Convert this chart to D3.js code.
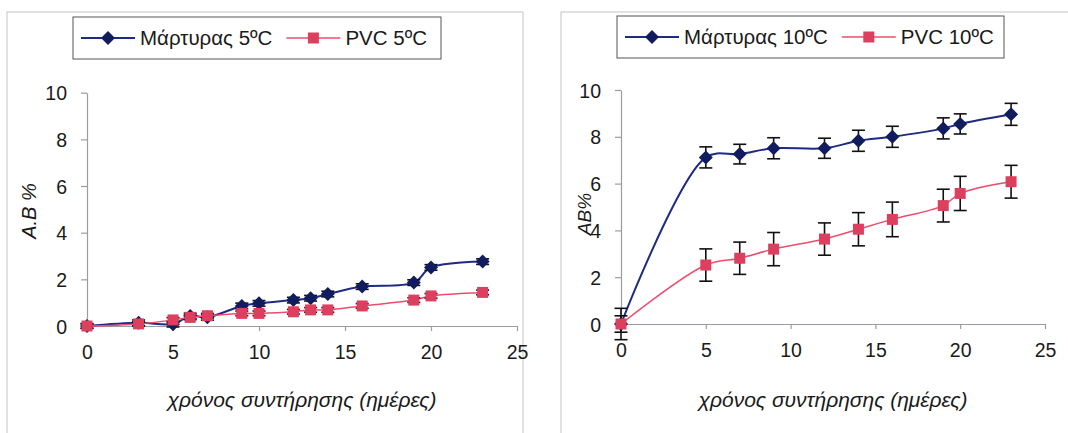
<!DOCTYPE html>
<html>
<head>
<meta charset="utf-8">
<script src="https://cdn.jsdelivr.net/npm/d3@7"></script>
<style>
  body { margin: 0; background: #fff; }
  text { font-family: "Liberation Sans", Arial, sans-serif; fill: #1a1a1a; }
</style>
</head>
<body>
<div id="chart"></div>
<script>
// Data (days of storage vs A.B %)
const days5 = [0, 3, 5, 6, 7, 9, 10, 12, 13, 14, 16, 19, 20, 23];
const control5 = [0, 0.14, 0.08, 0.43, 0.37, 0.86, 0.97, 1.11, 1.19, 1.37, 1.69, 1.86, 2.51, 2.76];
const control5Err = [0.1, 0.12, 0.12, 0.12, 0.12, 0.12, 0.12, 0.12, 0.12, 0.12, 0.12, 0.12, 0.12, 0.12];
const pvc5 = [0, 0.09, 0.26, 0.37, 0.44, 0.54, 0.54, 0.61, 0.69, 0.69, 0.86, 1.11, 1.29, 1.44];
const pvc5Err = [0.1, 0.1, 0.1, 0.1, 0.1, 0.1, 0.1, 0.1, 0.1, 0.1, 0.1, 0.1, 0.1, 0.1];

const days10 = [0, 5, 7, 9, 12, 14, 16, 19, 20, 23];
const control10 = [0, 7.12, 7.26, 7.51, 7.51, 7.83, 8.0, 8.36, 8.55, 8.96];
const control10Err = [0.67, 0.45, 0.42, 0.45, 0.43, 0.45, 0.45, 0.45, 0.43, 0.47];
const pvc10 = [0, 2.52, 2.81, 3.2, 3.63, 4.05, 4.47, 5.06, 5.58, 6.08];
const pvc10Err = [0.35, 0.69, 0.69, 0.71, 0.69, 0.71, 0.74, 0.7, 0.73, 0.7];

const xTicks = [0, 5, 10, 15, 20, 25];
const yTicks = [0, 2, 4, 6, 8, 10];
const xTitle = "χρόνος συντήρησης (ημέρες)";

const blueLine = "#1f2a82";
const blueMark = "#101c5e";
const redLine = "#ec4d6c";
const redMark = "#dd3f5e";

const svg = d3.select("#chart").append("svg")
  .attr("width", 1068)
  .attr("height", 433);

const panels = [
  {
    frame: [7, 12, 516, 440],
    xr: [87, 517], yr: [326, 92.7],
    legend: { x: 73, y: 17, w: 368, h: 42 },
    yTitle: "A.B %", yTitleX: 36, yTitleY: 211, yTitleSize: 20,
    days: days5,
    series: [
      { name: "Μάρτυρας 5ºC", values: control5, err: control5Err, line: blueLine, mark: blueMark, shape: "diamond", width: 2 },
      { name: "PVC 5ºC", values: pvc5, err: pvc5Err, line: redLine, mark: redMark, shape: "square", width: 1.5 }
    ]
  },
  {
    frame: [561, 12, 520, 440],
    xr: [621, 1045], yr: [324, 90],
    legend: { x: 617, y: 16, w: 387, h: 42 },
    yTitle: "AB%", yTitleX: 591, yTitleY: 214, yTitleSize: 19,
    days: days10,
    series: [
      { name: "Μάρτυρας 10ºC", values: control10, err: control10Err, line: blueLine, mark: blueMark, shape: "diamond", width: 2 },
      { name: "PVC 10ºC", values: pvc10, err: pvc10Err, line: redLine, mark: redMark, shape: "square", width: 1.5 }
    ]
  }
];

const diamond = "M0,-7L7,0L0,7L-7,0Z";
const square = "M-5.5,-5.5H5.5V5.5H-5.5Z";

function marker(g, shape, color) {
  g.append("path")
    .attr("d", shape === "diamond" ? diamond : square)
    .attr("fill", color);
}

panels.forEach((p) => {
  const g = svg.append("g");

  // Panel frame
  g.append("rect")
    .attr("x", p.frame[0]).attr("y", p.frame[1])
    .attr("width", p.frame[2]).attr("height", p.frame[3])
    .attr("fill", "none")
    .attr("stroke", "#c4c4c4");

  const x = d3.scaleLinear().domain([0, 25]).range(p.xr);
  const y = d3.scaleLinear().domain([0, 10]).range(p.yr);

  // Axes
  const xAxis = g.append("g")
    .attr("transform", `translate(0,${p.yr[0]})`)
    .call(d3.axisBottom(x).tickValues(xTicks).tickSize(5).tickPadding(14).tickSizeOuter(0));
  const yAxis = g.append("g")
    .attr("transform", `translate(${p.xr[0]},0)`)
    .call(d3.axisLeft(y).tickValues(yTicks).tickSize(6).tickPadding(14).tickSizeOuter(0));
  [xAxis, yAxis].forEach((a) => {
    a.selectAll("path, line").attr("stroke", "#9b9ba6").attr("stroke-width", 1.2);
    a.selectAll("text").attr("font-size", 19.5).attr("font-family", "Liberation Sans, Arial, sans-serif").attr("fill", "#1a1a1a");
  });
  yAxis.selectAll("text").attr("dy", "0.36em");

  // Axis titles
  g.append("text")
    .attr("x", (p.xr[0] + p.xr[1]) / 2)
    .attr("y", 407)
    .attr("text-anchor", "middle")
    .attr("font-family", "DejaVu Sans, Verdana, sans-serif")
    .attr("font-style", "italic")
    .attr("font-size", 21)
    .text(xTitle);
  g.append("text")
    .attr("transform", `translate(${p.yTitleX},${p.yTitleY}) rotate(-90)`)
    .attr("text-anchor", "middle")
    .attr("font-style", "italic")
    .attr("font-size", p.yTitleSize)
    .text(p.yTitle);

  const line = d3.line()
    .x((d) => x(d[0]))
    .y((d) => y(d[1]))
    .curve(d3.curveCatmullRom.alpha(0.5));

  p.series.forEach((s) => {
    const pts = p.days.map((d, i) => [d, s.values[i], s.err[i]]);

    g.append("path")
      .datum(pts)
      .attr("fill", "none")
      .attr("stroke", s.line)
      .attr("stroke-width", s.width)
      .attr("d", line);

    // Error bars
    const eb = g.append("g").attr("stroke", "#111").attr("stroke-width", 1.6);
    pts.forEach((d) => {
      const cx = x(d[0]);
      eb.append("line").attr("x1", cx).attr("x2", cx).attr("y1", y(d[1] - d[2])).attr("y2", y(d[1] + d[2]));
      [d[1] - d[2], d[1] + d[2]].forEach((v) => {
        eb.append("line").attr("x1", cx - 6.5).attr("x2", cx + 6.5).attr("y1", y(v)).attr("y2", y(v));
      });
    });

    // Markers
    g.append("g").selectAll("path")
      .data(pts)
      .join("path")
      .attr("transform", (d) => `translate(${x(d[0])},${y(d[1])})`)
      .attr("d", s.shape === "diamond" ? diamond : square)
      .attr("fill", s.mark);
  });

  // Legend
  const L = p.legend;
  g.append("rect")
    .attr("x", L.x).attr("y", L.y)
    .attr("width", L.w).attr("height", L.h)
    .attr("fill", "#fff")
    .attr("stroke", "#555")
    .attr("stroke-width", 1);
  let cx = L.x + 8;
  const cy = L.y + L.h / 2;
  p.series.forEach((s) => {
    g.append("line")
      .attr("x1", cx).attr("x2", cx + 54)
      .attr("y1", cy).attr("y2", cy)
      .attr("stroke", s.line).attr("stroke-width", s.width);
    const m = g.append("g").attr("transform", `translate(${cx + 27},${cy})`);
    marker(m, s.shape, s.mark);
    const t = g.append("text")
      .attr("x", cx + 59)
      .attr("y", cy)
      .attr("dy", "0.36em")
      .attr("font-size", 20.5)
      .text(s.name);
    cx += 59 + t.node().getComputedTextLength() + 14;
  });
});
</script>
</body>
</html>
